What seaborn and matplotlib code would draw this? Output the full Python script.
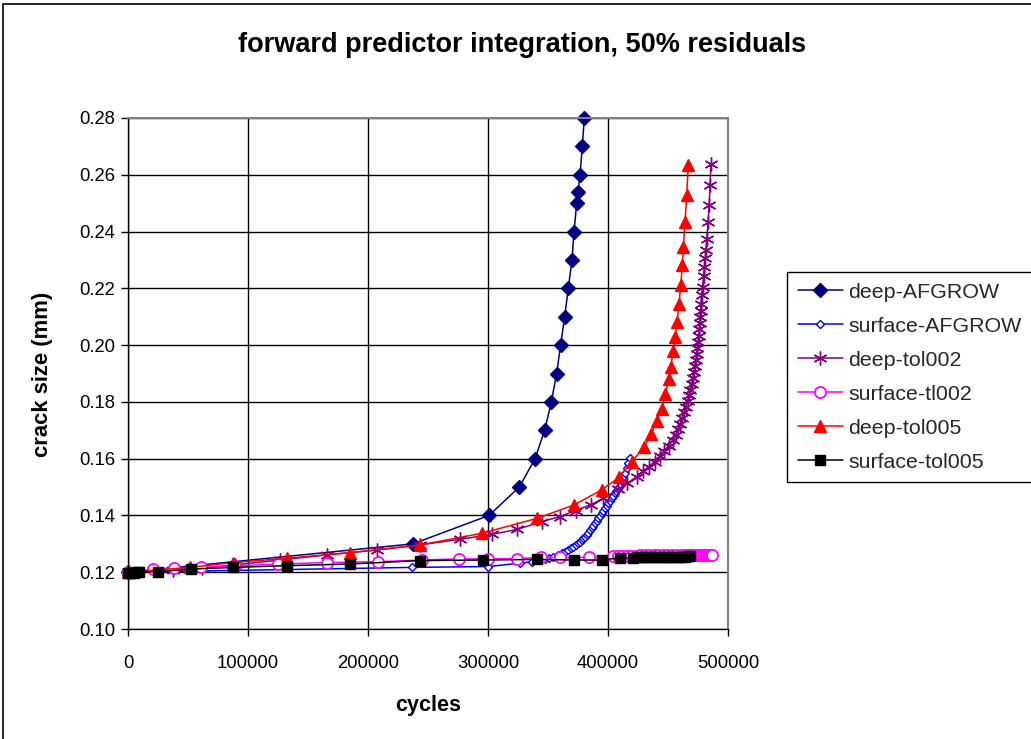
import matplotlib
matplotlib.use("Agg")
import matplotlib.pyplot as plt
import seaborn as sns
from matplotlib.patches import Rectangle

# ---- data: cycles vs crack size (mm) ----
deep_afgrow_x = [0, 237500, 300800, 326100, 339200, 347200, 352800, 357200, 360500,
                 363900, 366900, 370000, 371700, 373900, 375000, 376700, 378600, 380250]
deep_afgrow_y = [0.120, 0.130, 0.140, 0.150, 0.160, 0.170, 0.180, 0.190, 0.200,
                 0.210, 0.220, 0.230, 0.240, 0.250, 0.254, 0.260, 0.270, 0.280]

surface_afgrow_x = [0, 236400, 300300, 326700, 336400, 343300, 347500, 351000, 354500,
                    358000, 361400, 364200, 366900, 369000, 371100, 373200, 375300,
                    376700, 378100, 379500, 380800, 382200, 383600, 385000, 386400,
                    387800, 389200, 390600, 391900, 393300, 394700, 396100, 397500,
                    398900, 400300, 401700, 403100, 404500, 405800, 407000, 408200,
                    409400, 410600, 411700, 412800, 414200, 415600, 417000, 418300]
surface_afgrow_y = [0.1200, 0.1217, 0.1220, 0.1232, 0.1237, 0.1243, 0.1246, 0.1250, 0.1254,
                    0.1260, 0.1267, 0.1272, 0.1278, 0.1284, 0.1290, 0.1296, 0.1302,
                    0.1308, 0.1313, 0.1319, 0.1325, 0.1332, 0.1339, 0.1347, 0.1355,
                    0.1363, 0.1372, 0.1381, 0.1390, 0.1399, 0.1408, 0.1416, 0.1425,
                    0.1434, 0.1443, 0.1451, 0.1460, 0.1469, 0.1478, 0.1486, 0.1494,
                    0.1501, 0.1509, 0.1522, 0.1537, 0.1551, 0.1566, 0.1584, 0.1601]

deep_tol002_x = [0, 37800, 61400, 89200, 126700, 165600, 207200, 243000, 276700,
                 303000, 324400, 344700, 360000, 373000, 385600, 396100, 408600,
                 415600, 423900, 429000, 434000, 439000, 443500, 447000, 450500,
                 454000, 456500, 458500, 460300, 462000, 463600, 465000, 466300,
                 467500, 468700, 469800, 470700, 471600, 472400, 473100, 473800,
                 474500, 475200, 475700, 476100, 476500, 476800, 477100, 477500,
                 478100, 478900, 479600, 480400, 481100, 481700, 482300, 483400,
                 484300, 485000, 485800]
deep_tol002_y = [0.1200, 0.1208, 0.1214, 0.1226, 0.1243, 0.1261, 0.1278, 0.1296, 0.1316,
                 0.1333, 0.1351, 0.1378, 0.1396, 0.1417, 0.1438, 0.1460, 0.1493,
                 0.1513, 0.1536, 0.1555, 0.1572, 0.1590, 0.1608, 0.1626, 0.1645,
                 0.1664, 0.1683, 0.1703, 0.1723, 0.1743, 0.1763, 0.1783, 0.1803,
                 0.1823, 0.1843, 0.1864, 0.1885, 0.1906, 0.1927, 0.1948, 0.1969,
                 0.1990, 0.2011, 0.2033, 0.2055, 0.2077, 0.2099, 0.2120, 0.2145,
                 0.2176, 0.2206, 0.2243, 0.2274, 0.2306, 0.2335, 0.2373, 0.2435,
                 0.2493, 0.2564, 0.2638]

surface_tl002_x = [0, 21100, 38300, 60600, 89200, 125300, 165600, 208600, 244700,
                   276100, 300300, 324400, 343900, 360000, 384400, 404400, 408300,
                   412000, 415800, 419500, 423300, 427000, 430800, 434500, 438300,
                   442000, 445800, 449500, 453300, 457000, 460500, 463500, 466500,
                   469000, 471500, 473500, 475500, 477300, 479000, 480500, 482000,
                   483300, 484500, 485500, 486400]
surface_tl002_y = [0.1200, 0.1210, 0.1214, 0.1217, 0.1222, 0.1229, 0.1234, 0.1237, 0.1243,
                   0.1247, 0.1247, 0.1248, 0.1252, 0.1252, 0.1252, 0.1257, 0.1257,
                   0.1258, 0.1258, 0.1258, 0.1258, 0.1259, 0.1259, 0.1259, 0.1259,
                   0.1259, 0.1259, 0.1260, 0.1260, 0.1260, 0.1260, 0.1260, 0.1260,
                   0.1260, 0.1260, 0.1260, 0.1261, 0.1261, 0.1261, 0.1261, 0.1261,
                   0.1261, 0.1261, 0.1261, 0.1262]

deep_tol005_x = [0, 51700, 87800, 132200, 185000, 243300, 294700, 341100, 371700,
                 394700, 409200, 420000, 429700, 436100, 440500, 445000, 447800,
                 450500, 452200, 454400, 456100, 457500, 459200, 460600, 462000,
                 462800, 464200, 465600, 466900]
deep_tol005_y = [0.1200, 0.1217, 0.1234, 0.1249, 0.1269, 0.1296, 0.1337, 0.1390, 0.1437,
                 0.1490, 0.1534, 0.1589, 0.1640, 0.1686, 0.1734, 0.1776, 0.1827,
                 0.1880, 0.1924, 0.1979, 0.2027, 0.2082, 0.2145, 0.2212, 0.2282,
                 0.2347, 0.2435, 0.2529, 0.2634]

surface_tol005_x = [0, 2500, 5000, 7500, 9200, 24700, 52200, 87800, 132200, 185000,
                    243300, 295500, 341100, 371700, 394700, 410000, 421100, 425000,
                    428000, 431000, 434000, 437000, 440000, 443000, 446000, 449000,
                    452000, 455000, 458000, 461000, 464000, 466500, 468300]
surface_tol005_y = [0.1198, 0.1199, 0.1199, 0.1200, 0.1200, 0.1202, 0.1211, 0.1217, 0.1223,
                    0.1229, 0.1241, 0.1243, 0.1245, 0.1243, 0.1243, 0.1251, 0.1251,
                    0.1252, 0.1252, 0.1252, 0.1253, 0.1253, 0.1253, 0.1254, 0.1254,
                    0.1254, 0.1254, 0.1255, 0.1255, 0.1255, 0.1255, 0.1256, 0.1256]

series_names = ["deep-AFGROW", "surface-AFGROW", "deep-tol002",
                "surface-tl002", "deep-tol005", "surface-tol005"]

x_ticks = [0, 100000, 200000, 300000, 400000, 500000]
y_ticks = [0.10, 0.12, 0.14, 0.16, 0.18, 0.20, 0.22, 0.24, 0.26, 0.28]

title_text = "forward predictor integration, 50% residuals"
x_label = "cycles"
y_label = "crack size (mm)"

# ---- styling ----
sns.set_theme(style="white")
plt.rcParams["font.family"] = ["Liberation Sans", "DejaVu Sans"]

fig = plt.figure(figsize=(10.31, 7.39), dpi=100)
ax = fig.add_axes([128 / 1031, 1 - 629 / 739, 600 / 1031, 511 / 739])

asterisk = (6, 2, 0)
styles = [
    dict(color="#000080", marker="D", markersize=7, markerfacecolor="#000080",
         markeredgecolor="#000080", markeredgewidth=1),
    dict(color="#0000FF", marker="D", markersize=4.5, markerfacecolor="white",
         markeredgecolor="#0000FF", markeredgewidth=1),
    dict(color="#800080", marker=asterisk, markersize=10, markerfacecolor="#800080",
         markeredgecolor="#800080", markeredgewidth=1),
    dict(color="#FF00FF", marker="o", markersize=8, markerfacecolor="white",
         markeredgecolor="#FF00FF", markeredgewidth=1.3),
    dict(color="#FF0000", marker="^", markersize=9, markerfacecolor="#FF0000",
         markeredgecolor="#FF0000", markeredgewidth=1),
    dict(color="#000000", marker="s", markersize=7, markerfacecolor="#000000",
         markeredgecolor="#000000", markeredgewidth=1),
]
data = [
    (deep_afgrow_x, deep_afgrow_y),
    (surface_afgrow_x, surface_afgrow_y),
    (deep_tol002_x, deep_tol002_y),
    (surface_tl002_x, surface_tl002_y),
    (deep_tol005_x, deep_tol005_y),
    (surface_tol005_x, surface_tol005_y),
]

for name, (xs, ys), st in zip(series_names, data, styles):
    sns.lineplot(x=xs, y=ys, ax=ax, sort=False, estimator=None, label=name,
                 linewidth=1.1, clip_on=False, **st)

ax.set_xlim(0, 500000)
ax.set_ylim(0.10, 0.28)
ax.set_xticks(x_ticks)
ax.set_yticks(y_ticks)
ax.set_xticklabels([str(t) for t in x_ticks], fontsize=13.3)
ax.set_yticklabels([f"{t:.2f}" for t in y_ticks], fontsize=13.3)
ax.grid(True, color="black", linewidth=1)
ax.set_axisbelow(True)
ax.tick_params(axis="both", direction="out", length=5, width=1, color="black",
               bottom=True, left=True, labelcolor="black")
ax.tick_params(axis="x", pad=13.5)
ax.tick_params(axis="y", pad=4)
for side in ("left", "bottom"):
    ax.spines[side].set_color("black")
    ax.spines[side].set_linewidth(1)
for side in ("top", "right"):
    ax.spines[side].set_color("#808080")
    ax.spines[side].set_linewidth(1.5)

ax.set_xlabel(x_label, fontsize=15.5, fontweight="bold", color="black")
ax.set_ylabel(y_label, fontsize=15.8, fontweight="bold", color="black")
ax.xaxis.set_label_coords(428 / 1031, 1 - 705 / 739, transform=fig.transFigure)
ax.yaxis.set_label_coords(43 / 1031, 1 - 374 / 739, transform=fig.transFigure)
ax.xaxis.label.set_va("center")
ax.yaxis.label.set_va("center")

fig.text(522 / 1031, 1 - 45 / 739, title_text, ha="center", va="center",
         fontsize=19.5, fontweight="bold", color="black")

handles, labels = ax.get_legend_handles_labels()
leg = ax.legend(handles, labels, loc="upper left",
                bbox_to_anchor=(787 / 1031, 1 - 272 / 739),
                bbox_transform=fig.transFigure, fontsize=15.4, frameon=True,
                fancybox=False, edgecolor="black", framealpha=1,
                handlelength=2.1, handletextpad=0.25, labelspacing=0.7,
                borderpad=0.5, borderaxespad=0)
leg.get_frame().set_linewidth(1)

# outer chart frame
fig.patches.append(Rectangle((3 / 1031, -0.01), 1.02, 1 - 4 / 739 + 0.01,
                             transform=fig.transFigure, fill=False,
                             edgecolor="black", linewidth=1.2))

fig.savefig("out.png", dpi=100)
